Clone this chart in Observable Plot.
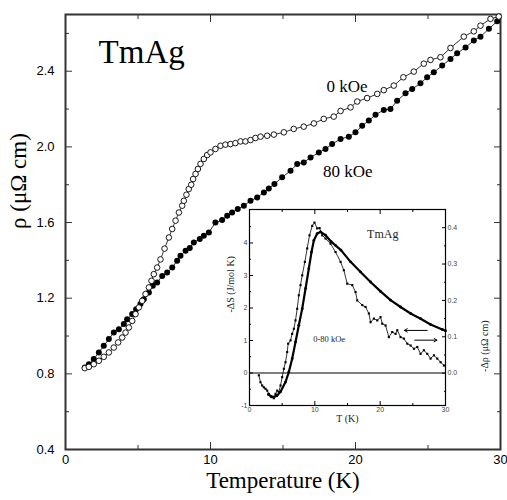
<!DOCTYPE html>
<html><head><meta charset="utf-8">
<script src="https://cdn.jsdelivr.net/npm/d3@7"></script>
<script src="https://cdn.jsdelivr.net/npm/@observablehq/plot@0.6"></script>
<style>
body{margin:0;background:#fff;}
#wrap{position:relative;width:507px;height:500px;overflow:hidden;}
#wrap svg{position:absolute;}
</style></head><body><div id="wrap"></div>
<script>
// ---- main chart data: resistivity vs temperature ----
const t0 = [1.33,1.61,1.95,2.3,2.64,2.99,3.33,3.63,3.91,4.14,4.37,4.6,4.83,5.06,5.29,5.52,5.75,5.93,6.09,6.32,6.55,6.83,7.13,7.36,7.59,7.82,8.05,8.16,8.34,8.5,8.67,8.8,8.97,9.13,9.31,9.54,9.77,10.0,10.34,10.69,11.03,11.38,11.72,12.07,12.41,12.76,13.1,13.45,13.91,14.37,15.06,15.74,16.43,17.13,17.81,18.5,18.97,19.66,20.12,20.8,21.5,21.95,22.64,23.3,24.02,24.71,25.17,25.86,26.55,27.47,28.16,28.62,29.31,29.88];
const rho0 = [0.83,0.837,0.851,0.869,0.89,0.913,0.939,0.966,0.992,1.018,1.045,1.08,1.116,1.151,1.186,1.222,1.257,1.292,1.327,1.362,1.405,1.462,1.521,1.566,1.61,1.653,1.689,1.715,1.747,1.777,1.8,1.83,1.857,1.883,1.91,1.936,1.957,1.971,1.989,2.006,2.012,2.015,2.02,2.029,2.029,2.036,2.047,2.054,2.059,2.065,2.077,2.095,2.107,2.124,2.148,2.16,2.19,2.209,2.24,2.258,2.28,2.3,2.324,2.368,2.398,2.44,2.46,2.474,2.523,2.583,2.611,2.641,2.677,2.689];
const t80 = [1.33,1.61,1.95,2.3,2.64,2.99,3.33,3.68,4.02,4.25,4.6,4.87,5.17,5.4,5.75,6.02,6.32,6.67,7.01,7.36,7.7,7.93,8.28,8.57,8.85,9.26,9.54,9.89,10.34,10.8,11.15,11.49,11.88,12.3,12.76,13.22,13.68,14.02,14.41,14.94,15.52,15.98,16.43,16.9,17.47,17.93,18.39,18.97,19.54,20.0,20.46,20.92,21.38,21.95,22.41,22.87,23.45,23.91,24.48,24.94,25.4,25.98,26.55,27.01,27.59,28.16,28.62,29.2,29.77];
const rho80 = [0.833,0.851,0.878,0.913,0.948,0.984,1.018,1.036,1.063,1.089,1.116,1.142,1.169,1.195,1.23,1.266,1.283,1.318,1.336,1.362,1.398,1.424,1.451,1.465,1.495,1.513,1.53,1.548,1.6,1.613,1.636,1.653,1.671,1.689,1.715,1.733,1.759,1.78,1.804,1.839,1.874,1.91,1.918,1.944,1.971,1.989,2.015,2.042,2.054,2.077,2.112,2.139,2.17,2.195,2.2,2.244,2.283,2.306,2.336,2.368,2.394,2.43,2.465,2.495,2.526,2.562,2.583,2.624,2.664];
const mainXTicks = [0,10,20,30];
const mainXMinor = [5,15,25];
const mainYTicks = [0.4,0.8,1.2,1.6,2.0,2.4];
const mainYMinor = [0.6,1.0,1.4,1.8,2.2,2.6];

// ---- inset data ----
// -dS (J/mol K), left axis
const tS = [2.9,3.3,3.72,4.2,4.75,5.51,6.02,6.53,7.04,7.55,8.07,8.58,9.08,9.49,9.85,10.36,10.87,11.64,12.5,13.2,14.0,15.47,17.0,18.53,20.06,21.59,23.12,24.66,26.19,27.72,29.5,30];
const dS = [-0.66,-0.72,-0.74,-0.7,-0.58,-0.28,0.03,0.44,0.95,1.47,1.98,2.6,3.21,3.72,4.08,4.29,4.34,4.24,4.04,3.92,3.78,3.42,3.11,2.8,2.51,2.24,2.03,1.83,1.67,1.49,1.34,1.3];
// -d rho (micro-ohm cm), right axis
const tR = [1.43,1.68,1.94,2.19,2.45,2.71,2.96,3.37,3.72,3.98,4.24,4.49,4.75,5.0,5.26,5.51,5.77,5.92,6.28,6.53,6.79,7.04,7.3,7.55,7.81,8.07,8.47,8.83,9.19,9.6,9.95,10.36,10.72,11.13,11.64,12.4,13.17,13.94,14.44,14.96,15.73,16.23,16.49,17.26,17.76,18.27,18.53,19.04,19.56,20.06,20.32,20.83,21.33,21.85,22.36,22.62,23.12,23.63,24.15,24.66,25.17,25.68,26.19,26.69,27.21,27.72,28.23,28.74,29.25,29.76];
const dR = [-0.006,-0.025,-0.034,-0.039,-0.043,-0.048,-0.057,-0.066,-0.069,-0.057,-0.048,-0.052,-0.034,-0.011,0.012,0.03,0.058,0.081,0.09,0.108,0.122,0.145,0.177,0.214,0.242,0.269,0.306,0.343,0.379,0.405,0.414,0.398,0.399,0.379,0.37,0.356,0.333,0.306,0.283,0.246,0.242,0.223,0.2,0.187,0.182,0.164,0.14,0.15,0.145,0.154,0.136,0.131,0.099,0.113,0.108,0.118,0.099,0.095,0.081,0.076,0.067,0.072,0.053,0.063,0.053,0.04,0.049,0.04,0.03,0.021];
const insXTicks = [0,10,20,30];
const insXMinor = [5,15,25];
const insLTicks = [-1,0,1,2,3,4];
const insLMinor = [-0.5,0.5,1.5,2.5,3.5,4.5];
const insRTicks = [0.0,0.1,0.2,0.3,0.4];
const insRMinor = [-0.05,0.05,0.15,0.25,0.35];
const arrows = [
  {x1: 27.2, y1: 1.31, x2: 23.7, y2: 1.31},
  {x1: 25.3, y1: 1.01, x2: 28.7, y2: 1.01}
];

const d0 = t0.map((t,i)=>({T:t, r:rho0[i]}));
const d80 = t80.map((t,i)=>({T:t, r:rho80[i]}));
const dSdata = tS.map((t,i)=>({T:t, v:dS[i]}));
const dRdata = tR.map((t,i)=>({T:t, v:dR[i]}));

const SANS = "'Liberation Sans', Arial, Helvetica, sans-serif";
const SERIF = "'Liberation Serif', 'Times New Roman', serif";

const main = Plot.plot({
  width: 507, height: 500,
  marginLeft: 65, marginRight: 7, marginTop: 14, marginBottom: 51,
  x: {domain: [0, 30]},
  y: {domain: [0.4, 2.7]},
  style: {fontFamily: SANS, fontSize: "13px", color: "#000", background: "transparent", overflow: "visible"},
  marks: [
    Plot.axisX(mainXTicks, {anchor: "bottom", tickSize: 0, tickPadding: 5.5, tickFormat: d => String(d), label: null, fontSize: 13}),
    Plot.axisX(mainXTicks, {anchor: "bottom", tickSize: -7, text: null, label: null, stroke: "#333"}),
    Plot.axisX(mainXMinor, {anchor: "bottom", tickSize: -4, text: null, label: null, stroke: "#333"}),
    Plot.axisX(mainXTicks, {anchor: "top", tickSize: -7, text: null, label: null, stroke: "#333"}),
    Plot.axisX(mainXMinor, {anchor: "top", tickSize: -4, text: null, label: null, stroke: "#333"}),
    Plot.axisY(mainYTicks, {anchor: "left", tickSize: 0, tickPadding: 11, tickFormat: d => d.toFixed(1), label: null, fontSize: 13}),
    Plot.axisY(mainYTicks, {anchor: "left", tickSize: -7, text: null, label: null, stroke: "#333"}),
    Plot.axisY(mainYMinor, {anchor: "left", tickSize: -4, text: null, label: null, stroke: "#333"}),
    Plot.axisY(mainYTicks, {anchor: "right", tickSize: -7, text: null, label: null, stroke: "#333"}),
    Plot.axisY(mainYMinor, {anchor: "right", tickSize: -4, text: null, label: null, stroke: "#333"}),
    Plot.frame({stroke: "#333", strokeWidth: 2}),
    Plot.line(d0, {x: "T", y: "r", stroke: "#000", strokeWidth: 0.8}),
    Plot.line(d80, {x: "T", y: "r", stroke: "#000", strokeWidth: 0.8}),
    Plot.dot(d80, {x: "T", y: "r", r: 3, fill: "#000", stroke: "none"}),
    Plot.dot(d0, {x: "T", y: "r", r: 2.8, fill: "#fff", stroke: "#000", strokeWidth: 0.9}),
    Plot.text(["TmAg"], {x: () => 2.28, y: () => 2.5, textAnchor: "start", fontFamily: SERIF, fontSize: 33}),
    Plot.text(["0 kOe"], {x: () => 18.0, y: () => 2.317, textAnchor: "start", fontFamily: SERIF, fontSize: 17}),
    Plot.text(["80 kOe"], {x: () => 17.75, y: () => 1.867, textAnchor: "start", fontFamily: SERIF, fontSize: 17}),
    Plot.text(["Temperature (K)"], {frameAnchor: "bottom", dy: 38, fontFamily: SERIF, fontSize: 23}),
    Plot.text(["ρ (μΩ cm)"], {frameAnchor: "left", dx: -47, dy: -3, rotate: -90, fontFamily: SERIF, fontSize: 23})
  ]
});

// inset geometry (margins around a 196x196 frame)
const IW = 266, IH = 226, IML = 30, IMR = 40, IMT = 5, IMB = 25;
const insetStyle = {fontFamily: SANS, fontSize: "7px", color: "#444", background: "transparent", overflow: "visible"};

const inset1 = Plot.plot({
  width: IW, height: IH, marginLeft: IML, marginRight: IMR, marginTop: IMT, marginBottom: IMB,
  x: {domain: [0, 30]},
  y: {domain: [-1, 5.03]},
  style: insetStyle,
  marks: [
    Plot.axisX(insXTicks, {anchor: "bottom", tickSize: 0, tickPadding: 2, tickFormat: d => String(d), label: null, fontSize: 7}),
    Plot.axisX(insXTicks, {anchor: "bottom", tickSize: -4, text: null, label: null, stroke: "#000"}),
    Plot.axisX(insXMinor, {anchor: "bottom", tickSize: -2, text: null, label: null, stroke: "#000"}),
    Plot.axisX(insXTicks, {anchor: "top", tickSize: -4, text: null, label: null, stroke: "#000"}),
    Plot.axisX(insXMinor, {anchor: "top", tickSize: -2, text: null, label: null, stroke: "#000"}),
    Plot.axisY(insLTicks, {anchor: "left", tickSize: 0, tickPadding: 2, tickFormat: d => String(d), label: null, fontSize: 7}),
    Plot.axisY(insLTicks, {anchor: "left", tickSize: -4, text: null, label: null, stroke: "#000"}),
    Plot.axisY(insLMinor, {anchor: "left", tickSize: -2, text: null, label: null, stroke: "#000"}),
    Plot.ruleY([0], {stroke: "#000", strokeWidth: 1.2}),
    Plot.frame({stroke: "#000", strokeWidth: 1.2}),
    Plot.line(dSdata, {x: "T", y: "v", stroke: "#000", strokeWidth: 2.2}),
    Plot.dot(dSdata, {x: "T", y: "v", r: 1.4, fill: "#000", stroke: "none"}),
    Plot.arrow(arrows, {x1: "x1", y1: "y1", x2: "x2", y2: "y2", stroke: "#000", strokeWidth: 1, headLength: 5}),
    Plot.text(["TmAg"], {x: () => 18.0, y: () => 4.27, textAnchor: "start", fontFamily: SERIF, fontSize: 12, fill: "#222"}),
    Plot.text(["0-80 kOe"], {x: () => 9.75, y: () => 1.04, textAnchor: "start", fontFamily: SERIF, fontSize: 8.5, fill: "#222"}),
    Plot.text(["T (K)"], {frameAnchor: "bottom", dy: 16, fontFamily: SERIF, fontSize: 10, fill: "#222"}),
    Plot.text(["-ΔS (J/mol K)"], {frameAnchor: "left", dx: -19, dy: 5, rotate: -90, fontFamily: SERIF, fontSize: 10, fill: "#222"})
  ]
});

const inset2 = Plot.plot({
  width: IW, height: IH, marginLeft: IML, marginRight: IMR, marginTop: IMT, marginBottom: IMB,
  x: {domain: [0, 30], axis: null},
  y: {domain: [-0.089, 0.45]},
  style: insetStyle,
  marks: [
    Plot.axisY(insRTicks, {anchor: "right", tickSize: 0, tickPadding: 2, tickFormat: d => d.toFixed(1), label: null, fontSize: 7}),
    Plot.axisY(insRTicks, {anchor: "right", tickSize: -4, text: null, label: null, stroke: "#000"}),
    Plot.axisY(insRMinor, {anchor: "right", tickSize: -2, text: null, label: null, stroke: "#000"}),
    Plot.line(dRdata, {x: "T", y: "v", stroke: "#000", strokeWidth: 0.8}),
    Plot.dot(dRdata, {x: "T", y: "v", r: 1.2, symbol: "square", fill: "#000", stroke: "none"}),
    Plot.text(["-Δρ (μΩ cm)"], {frameAnchor: "right", dx: 39, dy: 13, rotate: -90, fontFamily: SERIF, fontSize: 10, fill: "#222"})
  ]
});

const wrap = document.getElementById("wrap");
main.style.left = "0px"; main.style.top = "0px";
inset1.style.left = (249 - IML) + "px"; inset1.style.top = (209 - IMT) + "px";
inset2.style.left = (249 - IML) + "px"; inset2.style.top = (209 - IMT) + "px";
wrap.appendChild(main);
wrap.appendChild(inset1);
wrap.appendChild(inset2);
</script>
</body></html>
